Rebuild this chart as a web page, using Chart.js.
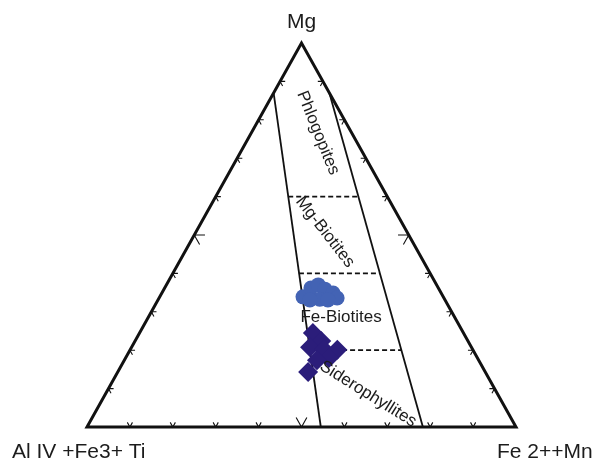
<!DOCTYPE html>
<html>
<head>
<meta charset="utf-8">
<script src="https://cdn.jsdelivr.net/npm/chart.js@4.4.1/dist/chart.umd.min.js"></script>
<style>
  html, body { margin: 0; background: #fff; }
  #wrap { width: 596px; height: 459px; position: relative; }
</style>
</head>
<body>
<div id="wrap"><canvas id="c"></canvas></div>
<script>
/* Ternary biotite classification (Mg – AlIV+Fe3++Ti – Fe2++Mn).
   Values are percentages; the third component is 100 - Mg - Fe. */

const vertexLabels = ["Mg", "Al IV +Fe3+ Ti", "Fe 2++Mn"];
const tickValues = [10, 20, 30, 40, 50, 60, 70, 80, 90];

// sample points (Mg %, Fe2+ +Mn %)
const blueMg = [33.9, 36.2, 37.0, 35.9, 34.9, 33.6, 33.3, 33.1, 33.1];
const blueFe = [33.4, 34.1, 35.4, 37.5, 39.9, 41.5, 37.6, 39.6, 35.4];
const navyMg = [24.5, 22.4, 20.8, 20.1, 20.1, 18.0, 17.4, 14.3];
const navyFe = [40.4, 43.4, 41.6, 45.2, 48.3, 47.4, 44.9, 44.4];

// field boundaries: [Mg, Fe] end points
const leftBoundary = [[87, 0], [0, 54.5]];
const rightBoundary = [[87, 13], [0, 78.3]];
const dashMg = [60, 40, 20];
const dashFeLeft = [16.9, 29.4, 42.0];
const dashFeRight = [33.3, 48.3, 63.3];

const fieldNames = ["Phlogopites", "Mg-Biotites", "Fe-Biotites", "Siderophyllites"];

/* ---------- helpers ---------- */

// ternary (Mg, Fe) in % -> cartesian x/y in [0,1]
function xy(mg, fe) { return { x: (fe + mg / 2) / 100, y: mg / 100 }; }
const GAP = { x: null, y: null };

function tickSegments() {
  const out = [];
  tickValues.forEach(t => {
    const d = t === 50 ? 2.5 : 1.2;
    // left edge (Fe = 0): arms along constant Mg and constant Al
    out.push(xy(t, d), xy(t, 0), xy(t - d, d), GAP);
    // bottom edge (Mg = 0)
    out.push(xy(d, t - d), xy(0, t), xy(d, t), GAP);
    // right edge (Al = 0)
    out.push(xy(t, 100 - t - d), xy(t, 100 - t), xy(t - d, 100 - t), GAP);
  });
  return out;
}

function dashSegments() {
  const out = [];
  dashMg.forEach((m, i) => out.push(xy(m, dashFeLeft[i]), xy(m, dashFeRight[i]), GAP));
  return out;
}

const line = (data, width, extra = {}) => ({
  type: "scatter", data, showLine: true, pointRadius: 0, borderColor: "#111",
  borderWidth: width, fill: false, tension: 0, clip: false, ...extra,
});

/* ---------- labels drawn through the scales ---------- */

const fieldPlacement = [
  { x: 0.5385, y: 0.7656, rot: 68 },
  { x: 0.5548, y: 0.5078, rot: 52 },
  { x: 0.5921, y: 0.2865, rot: 0 },
  { x: 0.6550, y: 0.0859, rot: 32 },
];

const labelPlugin = {
  id: "ternaryLabels",
  afterDatasetsDraw(chart) {
    const { ctx, scales: { x, y } } = chart;
    ctx.save();
    ctx.fillStyle = "#1c1c1c";
    ctx.font = '17px "Liberation Sans", Arial, sans-serif';
    ctx.textAlign = "center";
    ctx.textBaseline = "middle";
    fieldNames.forEach((name, i) => {
      const p = fieldPlacement[i];
      ctx.save();
      ctx.translate(x.getPixelForValue(p.x), y.getPixelForValue(p.y));
      ctx.rotate(p.rot * Math.PI / 180);
      ctx.fillText(name, 0, 0);
      ctx.restore();
    });

    ctx.font = '21px "Liberation Sans", Arial, sans-serif';
    ctx.textBaseline = "alphabetic";
    const apex = xy(100, 0), left = xy(0, 0), right = xy(0, 100);
    ctx.fillText(vertexLabels[0], x.getPixelForValue(apex.x), y.getPixelForValue(apex.y) - 15);
    ctx.textAlign = "left";
    ctx.fillText(vertexLabels[1], x.getPixelForValue(left.x) - 75, y.getPixelForValue(left.y) + 31);
    ctx.fillText(vertexLabels[2], x.getPixelForValue(right.x) - 19, y.getPixelForValue(right.y) + 31);
    ctx.restore();
  },
};

/* ---------- chart ---------- */

new Chart(document.getElementById("c"), {
  type: "scatter",
  data: {
    datasets: [
      {
        data: blueMg.map((m, i) => xy(m, blueFe[i])),
        pointStyle: "circle", pointRadius: 7.5, backgroundColor: "#4363b4",
        borderWidth: 0, clip: false,
      },
      {
        data: navyMg.map((m, i) => xy(m, navyFe[i])),
        pointStyle: "rectRot", pointRadius: 10, backgroundColor: "#2b1d7a",
        borderWidth: 0, clip: false,
      },
      line([xy(0, 50), xy(0, 100), xy(100, 0), xy(0, 0), xy(0, 50)], 3, { borderJoinStyle: "miter" }),
      line(leftBoundary.map(p => xy(p[0], p[1])), 1.8),
      line(rightBoundary.map(p => xy(p[0], p[1])), 1.8),
      line(dashSegments(), 1.8, { borderDash: [5, 3] }),
      line(tickSegments(), 1.1, { spanGaps: false }),
    ],
  },
  options: {
    responsive: true,
    maintainAspectRatio: false,
    animation: false,
    layout: { padding: { left: 87, right: 80, top: 43, bottom: 32 } },
    scales: {
      x: { type: "linear", min: 0, max: 1, display: false },
      y: { type: "linear", min: 0, max: 1, display: false },
    },
    plugins: { legend: { display: false }, tooltip: { enabled: false } },
  },
  plugins: [labelPlugin],
});
</script>
</body>
</html>
